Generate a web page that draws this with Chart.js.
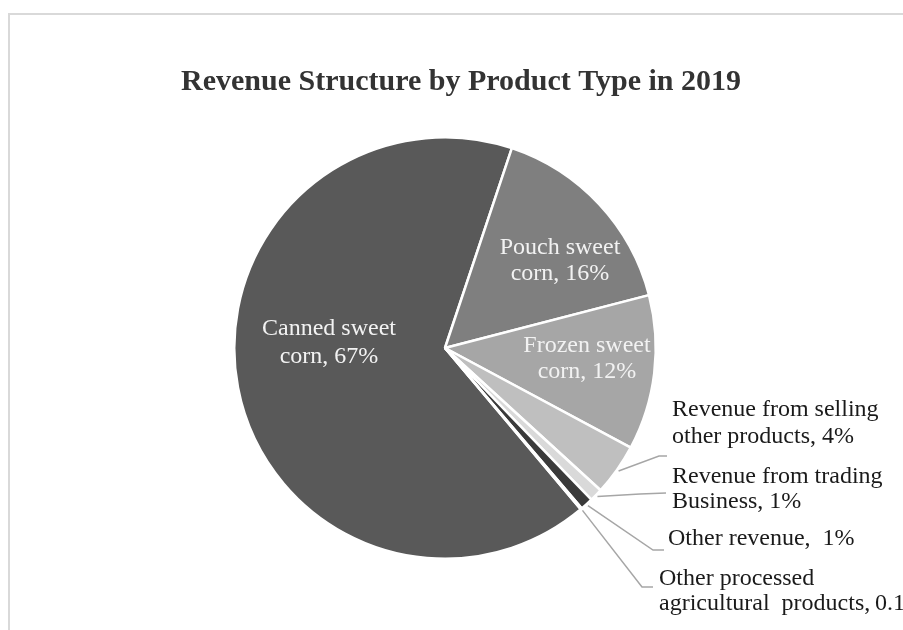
<!DOCTYPE html>
<html>
<head>
<meta charset="utf-8">
<title>Revenue Structure by Product Type in 2019</title>
<script src="https://cdn.jsdelivr.net/npm/chart.js@4/dist/chart.umd.min.js"></script>
<style>
  html, body { margin: 0; padding: 0; background: #fff; }
  canvas { display: block; }
</style>
</head>
<body>
<canvas id="revenueChart" width="903" height="630"></canvas>
<script>
// Revenue split by product type, 2019 (percent)
const categories = [
    'Canned sweet corn',
    'Pouch sweet corn',
    'Frozen sweet corn',
    'Revenue from selling other products',
    'Revenue from trading Business',
    'Other revenue',
    'Other processed agricultural products'
];
const shares = [67, 16, 12, 4, 1, 1, 0.1];
const labelLines = [
    ['Canned sweet', 'corn, 67%'],
    ['Pouch sweet', 'corn, 16%'],
    ['Frozen sweet', 'corn, 12%'],
    ['Revenue from selling', 'other products, 4%'],
    ['Revenue from trading', 'Business, 1%'],
    ['Other revenue,  1%'],
    ['Other processed', 'agricultural  products,\u20090.1%']
];
const sliceColors = ['#595959', '#7f7f7f', '#a6a6a6', '#bfbfbf', '#d9d9d9', '#3a3a3a', '#262626'];

// where each label sits; outside labels get a leader line (bend + end point)
const labelLayout = [
    { inside: true, cx: 329, y: 335, gap: 28 },
    { inside: true, cx: 560, y: 254, gap: 26 },
    { inside: true, cx: 587, y: 352, gap: 26 },
    { x: 672, y: 416, gap: 27, bend: [659, 456], end: [667, 456] },
    { x: 672, y: 483, gap: 25, bend: [640, 494], end: [666, 493] },
    { x: 668, y: 545, gap: 25, bend: [653, 550], end: [664, 550] },
    { x: 659, y: 585, gap: 25, bend: [642, 587], end: [653, 587] }
];

// pouch slice starts a little right of 12 o'clock; canned (first) ends there
const total = shares.reduce((a, b) => a + b, 0);
const startAngle = 18.5 - shares[0] / total * 360;

const serif = '"Liberation Serif", "Times New Roman", serif';

const decorPlugin = {
    id: 'decor',
    beforeDraw(chart) {
        const ctx = chart.ctx;
        ctx.save();
        ctx.fillStyle = '#fff';
        ctx.fillRect(0, 0, chart.width, chart.height);
        // chart frame (only top and left edges fall inside the canvas)
        ctx.strokeStyle = '#d9d9d9';
        ctx.lineWidth = 2;
        ctx.beginPath();
        ctx.moveTo(9, chart.height);
        ctx.lineTo(9, 14);
        ctx.lineTo(chart.width, 14);
        ctx.stroke();
        // title
        ctx.fillStyle = '#333';
        ctx.font = 'bold 30px ' + serif;
        ctx.textAlign = 'center';
        ctx.textBaseline = 'alphabetic';
        ctx.fillText('Revenue Structure by Product Type in 2019', 461, 90);
        ctx.restore();
    },
    afterDatasetsDraw(chart) {
        const ctx = chart.ctx;
        const arcs = chart.getDatasetMeta(0).data;
        ctx.save();
        ctx.font = '24px ' + serif;
        ctx.textBaseline = 'alphabetic';
        arcs.forEach((arc, i) => {
            const lay = labelLayout[i];
            const lines = labelLines[i];
            if (lay.inside) {
                ctx.fillStyle = '#f2f2f2';
                ctx.textAlign = 'center';
                lines.forEach((t, k) => ctx.fillText(t, lay.cx, lay.y + k * lay.gap));
                return;
            }
            const { x, y, startAngle: a0, endAngle: a1, outerRadius } = arc.getProps(['x', 'y', 'startAngle', 'endAngle', 'outerRadius'], true);
            const mid = (a0 + a1) / 2;
            const r = outerRadius + 2;
            ctx.strokeStyle = '#a6a6a6';
            ctx.lineWidth = 1.5;
            ctx.beginPath();
            ctx.moveTo(x + Math.cos(mid) * r, y + Math.sin(mid) * r);
            ctx.lineTo(lay.bend[0], lay.bend[1]);
            ctx.lineTo(lay.end[0], lay.end[1]);
            ctx.stroke();
            ctx.fillStyle = '#1a1a1a';
            ctx.textAlign = 'left';
            lines.forEach((t, k) => ctx.fillText(t, lay.x, lay.y + k * lay.gap));
        });
        ctx.restore();
    }
};

new Chart(document.getElementById('revenueChart').getContext('2d'), {
    type: 'pie',
    data: {
        labels: categories,
        datasets: [{
            data: shares,
            backgroundColor: sliceColors,
            borderColor: '#ffffff',
            borderWidth: 2.5,
            hoverBorderWidth: 2.5
        }]
    },
    options: {
        responsive: false,
        animation: false,
        devicePixelRatio: 1,
        rotation: startAngle,
        layout: { padding: { left: 233, top: 136, right: 246, bottom: 70 } },
        plugins: {
            legend: { display: false },
            tooltip: { enabled: false },
            title: { display: false }
        }
    },
    plugins: [decorPlugin]
});
</script>
</body>
</html>
